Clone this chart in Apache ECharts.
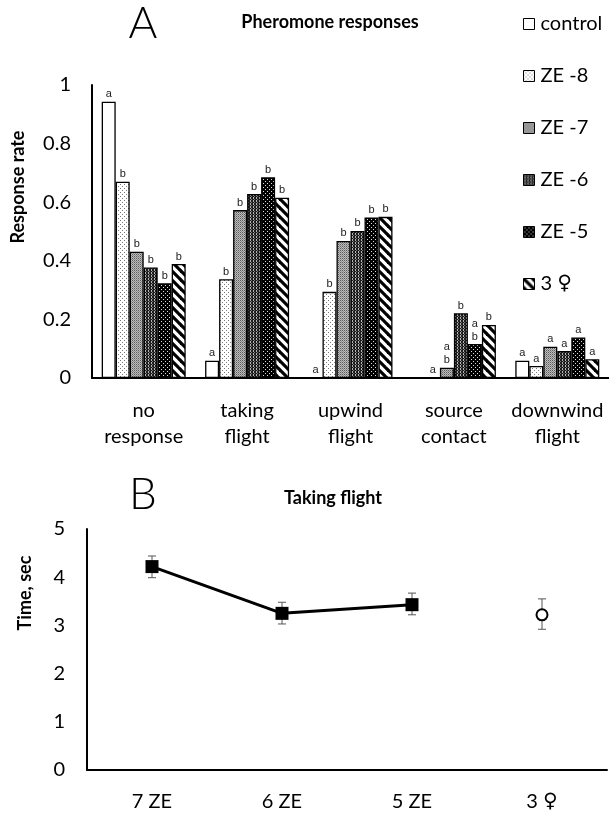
<!DOCTYPE html>
<html>
<head>
<meta charset="utf-8">
<script src="https://cdn.jsdelivr.net/npm/echarts@6/dist/echarts.min.js"></script>
<style>
html,body{margin:0;padding:0;background:#fff;}
#chart{width:609px;height:818px;}
</style>
</head>
<body>
<div id="chart"></div>
<script>
// ---- Panel A data ----
const behaviours = ['no\nresponse', 'taking\nflight', 'upwind\nflight', 'source\ncontact', 'downwind\nflight'];
const seriesNames = ['control', 'ZE -8', 'ZE -7', 'ZE -6', 'ZE -5', '3 ♀'];
const controlVals = [0.943, 0.059, 0, 0, 0.059];
const ze8Vals = [0.670, 0.337, 0.294, 0, 0.041];
const ze7Vals = [0.431, 0.573, 0.468, 0.035, 0.107];
const ze6Vals = [0.377, 0.628, 0.502, 0.221, 0.092];
const ze5Vals = [0.323, 0.685, 0.548, 0.116, 0.138];
const femaleVals = [0.389, 0.615, 0.550, 0.181, 0.064];
const controlLetters = ['a', 'a', 'a', '', 'a'];
const ze8Letters = ['b', 'b', 'b', 'a', 'a'];
const ze7Letters = ['b', 'b', 'b', 'a\nb', 'a'];
const ze6Letters = ['b', 'b', 'b', 'b', 'a'];
const ze5Letters = ['b', 'b', 'b', 'a\nb', 'a'];
const femaleLetters = ['b', 'b', 'b', 'b', 'a'];
const rateTicks = [0, 0.2, 0.4, 0.6, 0.8, 1];

// ---- Panel B data ----
const timeCats = ['7 ZE', '6 ZE', '5 ZE', '3 ♀'];
const zeMeans = [4.22, 3.25, 3.43];
const femaleMean = 3.22;
const errLow = [3.99, 3.03, 3.22, 2.92];
const errHigh = [4.44, 3.48, 3.67, 3.55];

// ---- patterns ----
function pat(w, h, draw) {
  const c = document.createElement('canvas');
  c.width = w; c.height = h;
  const g = c.getContext('2d');
  draw(g, w, h);
  return { image: c, repeat: 'repeat' };
}
const fills = [
  '#ffffff',
  pat(4, 4, (g) => { g.fillStyle = '#fff'; g.fillRect(0,0,4,4); g.fillStyle = '#777'; g.fillRect(0,0,1,1); g.fillRect(2,2,1,1); }),
  pat(2, 2, (g) => { g.fillStyle = '#bdbdbd'; g.fillRect(0,0,2,2); g.fillStyle = '#5a5a5a'; g.fillRect(0,0,1,1); g.fillStyle = '#8a8a8a'; g.fillRect(1,1,1,1); }),
  pat(3, 3, (g) => { g.fillStyle = '#1c1c1c'; g.fillRect(0,0,3,3); g.fillStyle = '#b5b5b5'; g.fillRect(1,0,1,1); g.fillRect(1,2,1,1); g.fillStyle = '#777'; g.fillRect(2,1,1,1); }),
  pat(4, 4, (g) => { g.fillStyle = '#000'; g.fillRect(0,0,4,4); g.fillStyle = '#e0e0e0'; g.fillRect(1,1,1,1); g.fillRect(3,3,1,1); }),
  pat(9, 9, (g) => {
    g.fillStyle = '#fff'; g.fillRect(0,0,9,9);
    g.strokeStyle = '#000'; g.lineWidth = 3.2;
    for (const o of [-9, 0, 9]) { g.beginPath(); g.moveTo(o - 1, -1); g.lineTo(o + 10, 10); g.stroke(); }
  })
];

const valueSets = [controlVals, ze8Vals, ze7Vals, ze6Vals, ze5Vals, femaleVals];
const letterSets = [controlLetters, ze8Letters, ze7Letters, ze6Letters, ze5Letters, femaleLetters];

const FONT = 'Lato, "Noto Sans", sans-serif';
const SYM_FONT = '"DejaVu Sans", sans-serif';
function femaleFmt(s) { return s.indexOf('♀') >= 0 ? s.replace('♀', '{f|♀}') : s; }

const barSeries = seriesNames.map((name, si) => ({
  name: name,
  type: 'bar',
  xAxisIndex: 0,
  yAxisIndex: 0,
  barWidth: 14,
  barGap: '0%',
  data: valueSets[si],
  itemStyle: { color: fills[si], borderColor: '#000', borderWidth: 1.3 },
  label: {
    show: true,
    position: 'top',
    distance: 1,
    fontFamily: '"Liberation Sans", Arial, sans-serif',
    fontSize: 11,
    lineHeight: 13,
    color: '#222',
    formatter: (p) => letterSets[si][p.dataIndex]
  },
  emphasis: { disabled: true },
  animation: false
}));

const lineData = timeCats.map((c, i) => i < zeMeans.length ? zeMeans[i] : null);
const circleData = timeCats.map((c, i) => i === timeCats.length - 1 ? femaleMean : null);
const errData = timeCats.map((c, i) => [i, errLow[i], errHigh[i]]);

const option = {
  animation: false,
  backgroundColor: '#fff',
  textStyle: { fontFamily: FONT },
  legend: {
    orient: 'vertical',
    left: 518,
    top: 9,
    itemWidth: 11,
    itemHeight: 11,
    itemGap: 32,
    icon: 'rect',
    data: seriesNames,
    formatter: femaleFmt,
    textStyle: {
      fontFamily: FONT, fontSize: 20, color: '#000', lineHeight: 20, padding: [0, 0, 0, 1],
      rich: { f: { fontFamily: SYM_FONT, fontSize: 20, color: '#000', lineHeight: 20 } }
    },
    itemStyle: { borderColor: '#000', borderWidth: 1 },
    selectedMode: false
  },
  grid: [
    { left: 92, right: -2, top: 85, height: 293, containLabel: false },
    { left: 87, width: 520, top: 529, height: 241, containLabel: false }
  ],
  xAxis: [
    {
      type: 'category', gridIndex: 0, data: behaviours,
      axisLine: { lineStyle: { color: '#000', width: 2 } },
      axisTick: { show: false },
      axisLabel: { fontFamily: FONT, fontSize: 20, color: '#000', lineHeight: 26, margin: 20, interval: 0 }
    },
    {
      type: 'category', gridIndex: 1, data: timeCats,
      axisLine: { lineStyle: { color: '#000', width: 2 } },
      axisTick: { show: false },
      axisLabel: {
        fontFamily: FONT, fontSize: 20, color: '#000', margin: 22, formatter: femaleFmt,
        rich: { f: { fontFamily: SYM_FONT, fontSize: 20, color: '#000' } }
      }
    }
  ],
  yAxis: [
    {
      type: 'value', gridIndex: 0, min: 0, max: 1, interval: 0.2,
      axisLine: { show: true, lineStyle: { color: '#000', width: 2 } },
      axisTick: { show: false },
      splitLine: { show: false },
      axisLabel: { fontFamily: FONT, fontSize: 20, color: '#000', margin: 21 }
    },
    {
      type: 'value', gridIndex: 1, min: 0, max: 5, interval: 1,
      axisLine: { show: true, lineStyle: { color: '#000', width: 2 } },
      axisTick: { show: false },
      splitLine: { show: false },
      axisLabel: { fontFamily: FONT, fontSize: 20, color: '#000', margin: 22 }
    }
  ],
  graphic: [
    { type: 'text', x: 143, y: 24, style: { text: 'A', font: '300 44px ' + FONT, fill: '#000', align: 'center', verticalAlign: 'middle', textAlign: 'center', textVerticalAlign: 'middle' } },
    { type: 'text', x: 330, y: 22, style: { text: 'Pheromone responses', font: 'bold 18px ' + FONT, fill: '#000', align: 'center', verticalAlign: 'middle', textAlign: 'center', textVerticalAlign: 'middle' } },
    { type: 'text', x: 18, y: 187, rotation: Math.PI / 2, style: { text: 'Response rate', font: 'bold 18px ' + FONT, fill: '#000', align: 'center', verticalAlign: 'middle', textAlign: 'center', textVerticalAlign: 'middle' } },
    { type: 'text', x: 143, y: 495, style: { text: 'B', font: '300 44px ' + FONT, fill: '#000', align: 'center', verticalAlign: 'middle', textAlign: 'center', textVerticalAlign: 'middle' } },
    { type: 'text', x: 333, y: 498, style: { text: 'Taking flight', font: 'bold 18px ' + FONT, fill: '#000', align: 'center', verticalAlign: 'middle', textAlign: 'center', textVerticalAlign: 'middle' } },
    { type: 'text', x: 25, y: 593, rotation: Math.PI / 2, style: { text: 'Time, sec', font: 'bold 18px ' + FONT, fill: '#000', align: 'center', verticalAlign: 'middle', textAlign: 'center', textVerticalAlign: 'middle' } }
  ],
  series: barSeries.concat([
    {
      name: 'err', type: 'custom', xAxisIndex: 1, yAxisIndex: 1, z: 1,
      data: errData,
      renderItem: function (params, api) {
        const x = api.value(0);
        const lo = api.coord([x, api.value(1)]);
        const hi = api.coord([x, api.value(2)]);
        const w = 4;
        const st = { stroke: '#555', lineWidth: 1, fill: null };
        return {
          type: 'group',
          children: [
            { type: 'line', shape: { x1: lo[0], y1: lo[1], x2: hi[0], y2: hi[1] }, style: st },
            { type: 'line', shape: { x1: hi[0] - w, y1: hi[1], x2: hi[0] + w, y2: hi[1] }, style: st },
            { type: 'line', shape: { x1: lo[0] - w, y1: lo[1], x2: lo[0] + w, y2: lo[1] }, style: st }
          ]
        };
      },
      silent: true
    },
    {
      name: 'ZE time', type: 'line', xAxisIndex: 1, yAxisIndex: 1, z: 3,
      data: lineData,
      symbol: 'rect', symbolSize: 13,
      lineStyle: { color: '#000', width: 3 },
      itemStyle: { color: '#000' },
      connectNulls: false,
      emphasis: { disabled: true }
    },
    {
      name: 'female time', type: 'line', xAxisIndex: 1, yAxisIndex: 1, z: 3,
      data: circleData,
      symbol: 'circle', symbolSize: 11, showAllSymbol: true,
      lineStyle: { opacity: 0 },
      itemStyle: { color: '#fff', borderColor: '#000', borderWidth: 2 },
      emphasis: { disabled: true }
    }
  ])
};

const chart = echarts.init(document.getElementById('chart'), null, { renderer: 'canvas' });
chart.setOption(option);
</script>
</body>
</html>
